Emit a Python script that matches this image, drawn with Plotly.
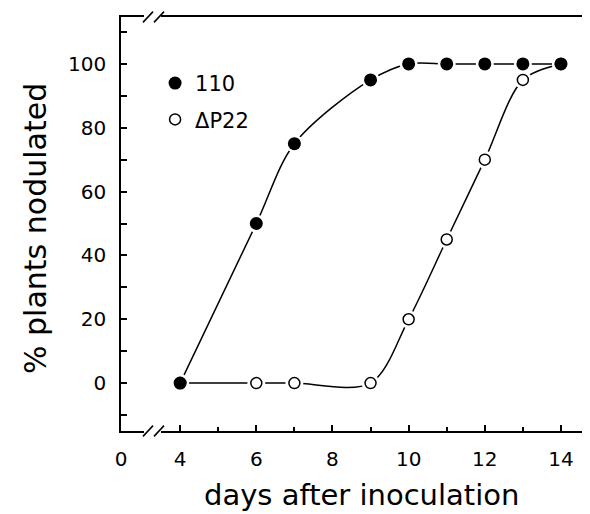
import plotly.graph_objects as go

days = [4, 6, 7, 9, 10, 11, 12, 13, 14]
wt_110 = [0, 50, 75, 95, 100, 100, 100, 100, 100]
dP22 = [0, 0, 0, 0, 20, 45, 70, 95, 100]

x_tick_vals = [2.447, 4, 6, 8, 10, 12, 14]
x_tick_text = ["0", "4", "6", "8", "10", "12", "14"]
x_minor_vals = [5, 7, 9, 11, 13]
y_tick_vals = [0, 20, 40, 60, 80, 100]

XR = [2.447, 14.71]
YR = [-15, 114.7]
FONT = "DejaVu Sans"

series = [("ΔP22", dP22, "open"), ("110", wt_110, "filled")]

fig = go.Figure()
for name, vals, kind in series:
    fig.add_trace(go.Scatter(
        x=days, y=vals, mode="lines", showlegend=False, hoverinfo="skip",
        line=dict(color="black", width=1.5, shape="spline", smoothing=0.9),
    ))
for name, vals, kind in series:
    fig.add_trace(go.Scatter(
        x=days, y=vals, mode="markers", showlegend=False, hoverinfo="skip",
        marker=dict(symbol="circle", size=18, color="white"),
    ))
for name, vals, kind in series:
    if kind == "filled":
        mk = dict(symbol="circle", size=13, color="black")
        rank = 1
    else:
        mk = dict(symbol="circle", size=11, color="white", line=dict(color="black", width=1.5))
        rank = 2
    fig.add_trace(go.Scatter(
        x=days, y=vals, mode="markers", name=name, legendrank=rank, legendgroup=name,
        marker=mk,
    ))

def px2x(px):
    return XR[0] + (px - 121) / 467 * (XR[1] - XR[0])

shapes = []
for yy in [1, 0]:
    shapes.append(dict(type="rect", xref="x", yref="paper", x0=px2x(144), x1=px2x(161),
                       y0=yy - 0.006, y1=yy + 0.006, fillcolor="white", line=dict(width=0), layer="above"))
    for dx in [0, 11]:
        shapes.append(dict(type="line", xref="x", yref="paper",
                           x0=px2x(143 + dx), x1=px2x(153 + dx),
                           y0=yy - 0.013, y1=yy + 0.013,
                           line=dict(color="black", width=1.5), layer="above"))

fig.update_layout(
    width=582, height=506,
    margin=dict(l=113, r=2, t=9, b=83),
    paper_bgcolor="white", plot_bgcolor="white",
    font=dict(family=FONT, color="black", size=20),
    showlegend=True,
    legend=dict(x=0.073, y=0.889, xanchor="left", yanchor="top", tracegroupgap=6,
                font=dict(size=21), bgcolor="rgba(0,0,0,0)", itemsizing="trace"),
    shapes=shapes,
    xaxis=dict(range=XR, automargin=False, showline=True, linecolor="black", linewidth=1.5, mirror=True,
               showgrid=False, zeroline=False, ticks="inside", ticklen=6, tickwidth=1.5,
               tickcolor="black", tickmode="array", tickvals=x_tick_vals, ticktext=x_tick_text,
               tickfont=dict(size=20), ticklabelstandoff=9,
               minor=dict(tickmode="array", tickvals=x_minor_vals, ticks="inside", ticklen=4,
                          tickwidth=1.5, tickcolor="black")),
    yaxis=dict(range=YR, automargin=False, showline=True, linecolor="black", linewidth=1.5, mirror=False,
               showgrid=False, zeroline=False, ticks="inside", ticklen=6, tickwidth=1.5,
               tickcolor="black", tickmode="array", tickvals=y_tick_vals,
               tickfont=dict(size=20), ticklabelstandoff=9,
               minor=dict(dtick=10, tick0=0, ticks="inside", ticklen=6, tickwidth=1.5,
                          tickcolor="black")),
    annotations=[
        dict(text="days after inoculation", xref="paper", yref="paper", x=0.515, y=-0.155,
             xanchor="center", yanchor="middle", showarrow=False, font=dict(size=29)),
        dict(text="% plants nodulated", xref="paper", yref="paper", x=-0.182, y=0.488,
             xanchor="center", yanchor="middle", showarrow=False, textangle=-90,
             font=dict(size=30)),
    ],
)

fig.write_html("out.html")
